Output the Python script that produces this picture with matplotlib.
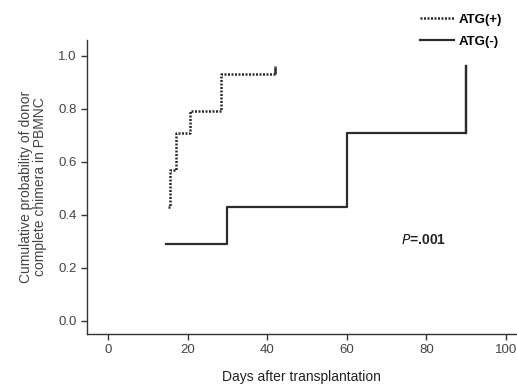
import matplotlib
matplotlib.use('Agg')
import matplotlib.pyplot as plt

plt.rcParams['font.family'] = ['Liberation Sans', 'DejaVu Sans']

# step data (days, cumulative probability)
atg_pos_days = [15, 15.5, 17, 20.5, 28.5, 42]
atg_pos_prob = [0.43, 0.57, 0.71, 0.79, 0.93, 0.96]
atg_neg_days = [14.5, 30, 60, 90]
atg_neg_prob = [0.29, 0.43, 0.71, 0.96]

xticks = [0, 20, 40, 60, 80, 100]
yticks = [0.0, 0.2, 0.4, 0.6, 0.8, 1.0]

fig = plt.figure(figsize=(5.17, 3.87), dpi=100)
ax = fig.add_axes([0.168, 0.137, 0.830, 0.760])

line_col = '#2b2b2b'
text_col = '#444444'
dots = (0, (0.8, 0.6))

# step curves, last value held as a vertical jump
ax.step(atg_pos_days, atg_pos_prob, where='post', color=line_col,
        lw=1.8, linestyle=dots, label='ATG(+)')
ax.step(atg_neg_days, atg_neg_prob, where='post', color=line_col,
        lw=1.6, label='ATG(-)')
# final vertical segments
ax.plot([atg_pos_days[-1]] * 2, atg_pos_prob[-2:], color=line_col,
        lw=1.8, linestyle=dots)
ax.plot([atg_neg_days[-1]] * 2, atg_neg_prob[-2:], color=line_col, lw=1.6)

ax.set_xlim(-5.3, 102.5)
ax.set_ylim(-0.05, 1.06)
ax.set_xticks(xticks)
ax.set_yticks(yticks)
ax.set_yticklabels(['%.1f' % v for v in yticks])

for s in ['top', 'right']:
    ax.spines[s].set_visible(False)
for s in ['left', 'bottom']:
    ax.spines[s].set_color('#333333')
    ax.spines[s].set_linewidth(1.0)
ax.tick_params(direction='out', length=4, width=1, colors='#333333',
               labelcolor=text_col, labelsize=9.5)

ax.set_xlabel('Days after transplantation', fontsize=10, color='#222222',
              labelpad=10)
ax.set_ylabel('Cumulative probability of donor\ncomplete chimera in PBMNC',
              fontsize=10, color=text_col, labelpad=8, linespacing=1.0)

ax.text(73.5, 0.305, r'$\it{P}$=.001', fontsize=10, fontweight='bold',
        color='#222222', va='center')

leg = fig.legend(loc='upper right', bbox_to_anchor=(0.995, 0.995), frameon=False,
                 fontsize=9.5, handlelength=2.6, handletextpad=0.4,
                 labelspacing=0.7)
for t in leg.get_texts():
    t.set_fontweight('bold')

fig.savefig('out.png', dpi=100)
